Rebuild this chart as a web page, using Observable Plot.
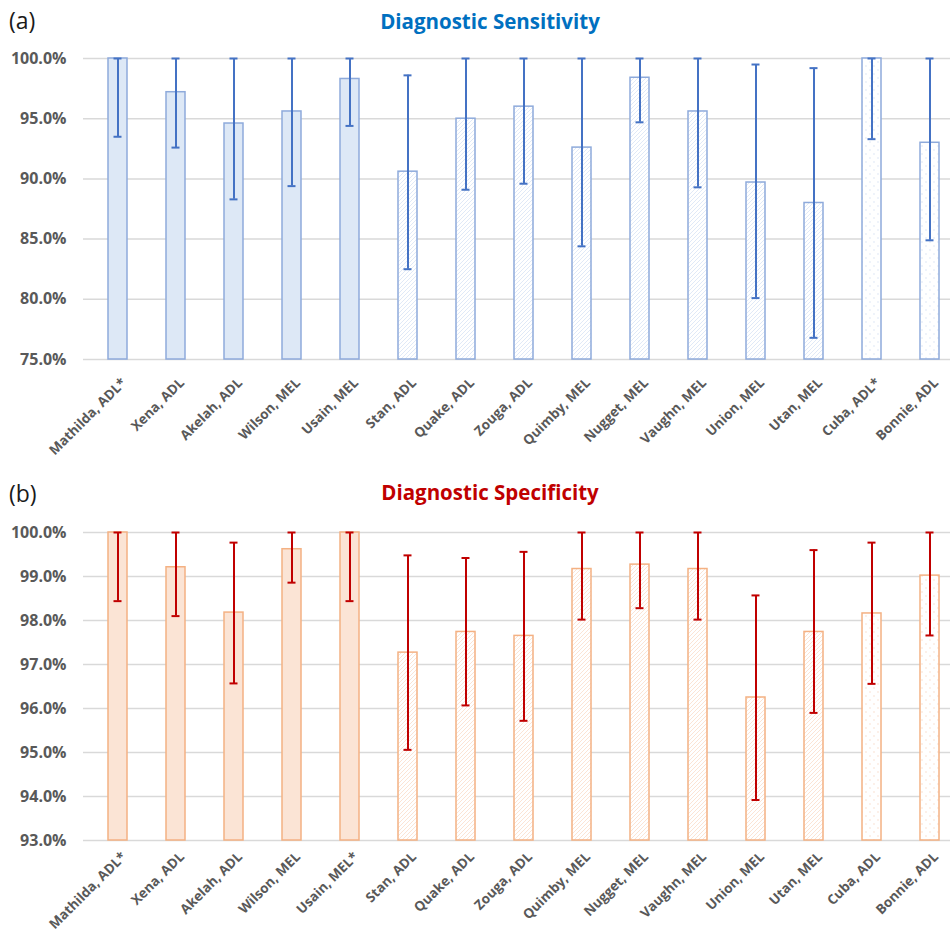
<!DOCTYPE html>
<html><head><meta charset="utf-8">
<script src="https://cdn.jsdelivr.net/npm/d3@7"></script>
<script src="https://cdn.jsdelivr.net/npm/@observablehq/plot@0.6"></script>
<style>
body{margin:0;background:#fff;font-family:"Open Sans",sans-serif;}
#page{position:relative;width:950px;height:932px;overflow:hidden;background:#fff;}
.tag{position:absolute;left:9px;font-size:23px;color:#1a1a1a;line-height:1;font-family:"Open Sans",sans-serif;}
.title{position:absolute;left:0;width:980px;text-align:center;font-weight:700;font-size:20.5px;line-height:1;}
.chart{position:absolute;left:0;}
</style></head><body>
<div id="page">
  <div class="tag" style="top:9px">(a)</div>
  <div class="title" style="top:11px;color:#0070c0">Diagnostic Sensitivity</div>
  <div class="chart" id="chartA" style="top:40px"></div>
  <div class="tag" style="top:482px">(b)</div>
  <div class="title" style="top:482px;color:#c00000">Diagnostic Specificity</div>
  <div class="chart" id="chartB" style="top:510px"></div>
</div>
<script>
// ---- data ----
const sensLabels = ["Mathilda, ADL*","Xena, ADL","Akelah, ADL","Wilson, MEL","Usain, MEL","Stan, ADL","Quake, ADL","Zouga, ADL","Quimby, MEL","Nugget, MEL","Vaughn, MEL","Union, MEL","Utan, MEL","Cuba, ADL*","Bonnie, ADL"];
const sensValue = [100.0, 97.2, 94.6, 95.6, 98.3, 90.6, 95.0, 96.0, 92.6, 98.4, 95.6, 89.7, 88.0, 100.0, 93.0];
const sensLower = [93.5, 92.6, 88.3, 89.4, 94.4, 82.5, 89.1, 89.6, 84.4, 94.7, 89.3, 80.1, 76.8, 93.3, 84.9];
const sensUpper = [100, 100, 100, 100, 100, 98.6, 100, 100, 100, 100, 100, 99.5, 99.2, 100, 100];
const sensTicks = [75, 80, 85, 90, 95, 100];

const specLabels = ["Mathilda, ADL*","Xena, ADL","Akelah, ADL","Wilson, MEL","Usain, MEL*","Stan, ADL","Quake, ADL","Zouga, ADL","Quimby, MEL","Nugget, MEL","Vaughn, MEL","Union, MEL","Utan, MEL","Cuba, ADL","Bonnie, ADL"];
const specValue = [100.0, 99.21, 98.18, 99.62, 100.0, 97.27, 97.74, 97.65, 99.17, 99.27, 99.17, 96.25, 97.74, 98.16, 99.02];
const specLower = [98.44, 98.10, 96.57, 98.86, 98.44, 95.06, 96.07, 95.72, 98.02, 98.28, 98.02, 93.92, 95.90, 96.56, 97.66];
const specUpper = [100, 100, 99.77, 100, 100, 99.48, 99.42, 99.56, 100, 100, 100, 98.57, 99.60, 99.77, 100];
const specTicks = [93, 94, 95, 96, 97, 98, 99, 100];

// bar group (1 = first cohort, 2 = second cohort, 3 = third cohort)
const cohort = [1,1,1,1,1,2,2,2,2,2,2,2,2,3,3];

function makeChart(id, labels, values, lower, upper, ticks, pal, height, marginTop, marginBottom, labelPad) {
  const data = labels.map((label, i) => ({label, value: values[i], lo: lower[i], hi: upper[i], g: cohort[i]}));
  const base = d3.min(ticks), top = d3.max(ticks);
  const fmt = d => d.toFixed(1) + "%";
  const chart = Plot.plot({
    width: 950, height, marginTop, marginBottom, marginLeft: 83, marginRight: 0,
    style: {fontFamily: "'Open Sans', sans-serif", background: "white", overflow: "visible"},
    x: {domain: labels, range: [83, 963], paddingInner: 0.676, paddingOuter: 0.338, label: null},
    y: {domain: [base, top], label: null},
    color: {type: "identity"},
    marks: [
      Plot.ruleY(ticks, {stroke: "#d9d9d9", strokeWidth: 1.5}),
      Plot.barY(data, {x: "label", y1: () => base, y2: "value", fill: d => `url(#${id}-p${d.g})`, stroke: pal.edge, strokeWidth: 1.5}),
      Plot.ruleX(data, {x: "label", y1: "lo", y2: "hi", stroke: pal.err, strokeWidth: 2}),
      Plot.tickY(data, {x: "label", y: "lo", stroke: pal.err, strokeWidth: 2, insetLeft: 5.5, insetRight: 5.5}),
      Plot.tickY(data, {x: "label", y: "hi", stroke: pal.err, strokeWidth: 2, insetLeft: 5.5, insetRight: 5.5}),
      Plot.axisY({ticks, tickSize: 0, tickPadding: 17, fontSize: 16, fontWeight: 700, fill: "#595959", tickFormat: fmt, label: null}),
      Plot.axisX({tickSize: 0, tickPadding: labelPad, dx: 6, tickRotate: -45, fontSize: 13.5, fontWeight: 700, fill: "#595959", label: null})
    ]
  });
  const svg = d3.select(chart);
  const defs = svg.insert("defs", ":first-child");
  const p1 = defs.append("pattern").attr("id", `${id}-p1`).attr("patternUnits", "userSpaceOnUse").attr("width", 4).attr("height", 4);
  p1.append("rect").attr("width", 4).attr("height", 4).attr("fill", pal.solid);
  const p2 = defs.append("pattern").attr("id", `${id}-p2`).attr("patternUnits", "userSpaceOnUse").attr("width", 4).attr("height", 4);
  p2.append("rect").attr("width", 4).attr("height", 4).attr("fill", "white");
  p2.append("path").attr("d", "M-1,1 L1,-1 M0,4 L4,0 M3,5 L5,3").attr("stroke", pal.hatch).attr("stroke-width", 0.7);
  const p3 = defs.append("pattern").attr("id", `${id}-p3`).attr("patternUnits", "userSpaceOnUse").attr("width", 8).attr("height", 8);
  p3.append("rect").attr("width", 8).attr("height", 8).attr("fill", "white");
  p3.append("circle").attr("cx", 2).attr("cy", 2).attr("r", 0.7).attr("fill", pal.hatch);
  p3.append("circle").attr("cx", 6).attr("cy", 6).attr("r", 0.7).attr("fill", pal.hatch);
  document.getElementById(id).append(chart);
}

makeChart("chartA", sensLabels, sensValue, sensLower, sensUpper, sensTicks,
  {edge: "#8eaadb", err: "#4472c4", solid: "#dde8f6", hatch: "#d3dff3"}, 409, 18, 90, 21);
makeChart("chartB", specLabels, specValue, specLower, specUpper, specTicks,
  {edge: "#f4b183", err: "#c00000", solid: "#fbe4d5", hatch: "#f9d8c3"}, 422, 22, 92, 14);
</script>
</body></html>
